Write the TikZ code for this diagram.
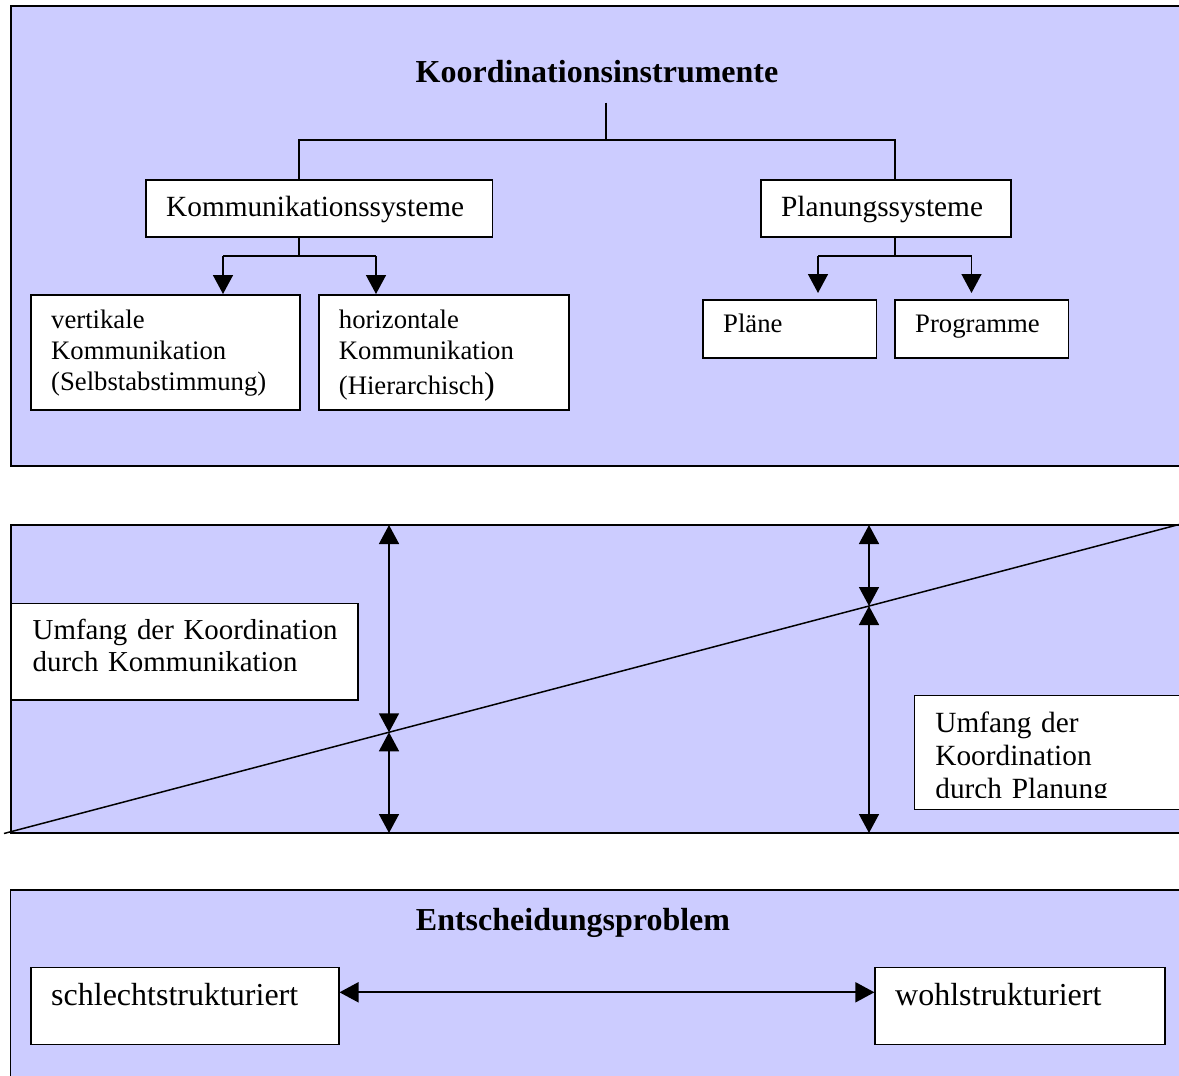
\documentclass[tikz,border=0pt]{standalone}
\usepackage{fontspec}
\setmainfont{Liberation Serif}
\usetikzlibrary{arrows.meta}
\definecolor{panel}{RGB}{204,204,255}
% font sizes (1pt = 1 unit of the drawing)
\newcommand\sizeMain{\fontsize{29.3}{31}\selectfont}
\newcommand\sizeSmall{\fontsize{26.7}{31}\selectfont}
\newcommand\sizeBig{\fontsize{32}{36}\selectfont}
\newcommand\sizeHead{\fontsize{32}{36}\selectfont\bfseries}
\begin{document}
\begin{tikzpicture}[x=1pt,y=-1pt,
  panelbox/.style={draw=black, fill=panel, line width=1.8pt},
  box/.style={draw=black, fill=white, line width=1.5pt, inner sep=0pt, anchor=north west},
  lbl/.style={inner sep=0pt, anchor=base west, align=left, text width=340pt},
  link/.style={line width=1.5pt},
  tip/.style={-{Triangle[width=20pt,length=19pt]}},
  dtip/.style={{Triangle[width=20pt,length=19pt]}-{Triangle[width=20pt,length=19pt]}},
]
\useasboundingbox (0,0) rectangle (1179,1076);
\clip (0,0) rectangle (1179,1076);

% ---------- panel 1: Koordinationsinstrumente ----------
\draw[panelbox] (10.7,6) rectangle (1195,466);
\node[font=\sizeHead, anchor=base, inner xsep=0pt, inner ysep=20pt] (title) at (597,82) {Koordinationsinstrumente};

\node[box, minimum width=346.4pt, minimum height=57.3pt] (komm) at (145.4,179) {};
\node[box, minimum width=250pt, minimum height=57.3pt] (plan) at (760,179) {};
\node[box, minimum width=269pt, minimum height=115.3pt] (vert) at (30.2,294) {};
\node[box, minimum width=250pt, minimum height=115.3pt] (horz) at (318.4,294) {};
\node[box, minimum width=173.6pt, minimum height=58pt] (plaene) at (702,299) {};
\node[box, minimum width=173.8pt, minimum height=58pt] (progr) at (894,299) {};

\coordinate (stem) at (606,140);
\coordinate (jk) at (299,140);
\coordinate (jp) at (895,140);
\draw[link] (title.south -| stem) -- (stem);
\draw[link] (jk |- komm.north) -- (jk) -- (jp) -- (jp |- plan.north);

\coordinate (kd) at (299,256);
\coordinate (ka) at (223,256);
\coordinate (kb) at (376,256);
\draw[link] (kd |- komm.south) -- (kd);
\draw[link] (ka) -- (kb);
\draw[link,tip] (ka) -- (ka |- vert.north);
\draw[link,tip] (kb) -- (kb |- horz.north);

\coordinate (pd) at (895,256);
\coordinate (pa) at (818,256);
\coordinate (pb) at (971.5,256);
\coordinate (pae) at (818,293);
\coordinate (pbe) at (971.5,293);
\draw[link] (pd |- plan.south) -- (pd);
\draw[link] (pa) -- (pb);
\draw[link,tip] (pa) -- (pae);
\draw[link,tip] (pb) -- (pbe);

\node[lbl, font=\sizeMain] (kommt) at (166,216.7) {Kommunikationssysteme};
\node[lbl, font=\sizeMain] (plant) at (781,216.7) {Planungssysteme};
\node[lbl, font=\sizeSmall] (vertt) at (51,328.3) {vertikale\\Kommunikation\\(Selbstabstimmung)};
\node[lbl, font=\sizeSmall] (horzt) at (338.7,328.3) {horizontale\\Kommunikation\\[4pt](Hierarchisch{\fontsize{32}{31}\selectfont)}};
\node[lbl, font=\sizeSmall] (plaenet) at (723,332) {Pläne};
\node[lbl, font=\sizeSmall] (progrt) at (915,332) {Programme};

% ---------- panel 2: Umfang der Koordination ----------
\draw[panelbox] (10.7,525) rectangle (1195,833);
\coordinate (d0) at (4,833.5);
\coordinate (d1) at (1179,524.5);
\draw[link] (d0) -- (d1);

\coordinate (lt) at (389,525);
\coordinate (lm) at (389,732.3);
\coordinate (lb) at (389,833);
\coordinate (rt) at (869,525);
\coordinate (rm) at (869,606);
\coordinate (rb) at (869,833);
\draw[link,dtip] (lt) -- (lm);
\draw[link,dtip] (lm) -- (lb);
\draw[link,dtip] (rt) -- (rm);
\draw[link,dtip] (rm) -- (rb);

\node[box, minimum width=346.7pt, minimum height=96.3pt] (kommbox) at (10.7,602.7) {};
\node[lbl, font=\fontsize{28.9}{32.4}\selectfont] (kommboxt) at (32.5,639.3) {Umfang der Koordination\\durch Kommunikation};

\node[box, minimum width=280pt, minimum height=114pt] (planbox) at (913.5,694.5) {};
\begin{scope}
  \clip (913.5,694.5) rectangle (1179,797.2);
  \node[lbl, font=\fontsize{29.3}{33}\selectfont] (planboxt) at (935.2,732) {Umfang der\\Koordination\\durch Planung};
\end{scope}

% ---------- panel 3: Entscheidungsproblem ----------
\draw[panelbox] (10.5,890) rectangle (1195,1095);
\node[font=\sizeHead, anchor=base, inner sep=0pt] (title3) at (573,930.7) {Entscheidungsproblem};

\node[box, minimum width=308pt, minimum height=77pt] (schlecht) at (30,966.7) {};
\node[box, minimum width=289.6pt, minimum height=77pt] (wohl) at (874.4,966.7) {};
\coordinate (ay) at (0,992.3);
\draw[link,line width=1.8pt,dtip] (schlecht.east |- ay) -- (wohl.west |- ay);

\node[lbl, font=\sizeBig] (schlechtt) at (51,1005.7) {schlechtstrukturiert};
\node[lbl, font=\sizeBig] (wohlt) at (895,1005.7) {wohlstrukturiert};
\end{tikzpicture}
\end{document}
